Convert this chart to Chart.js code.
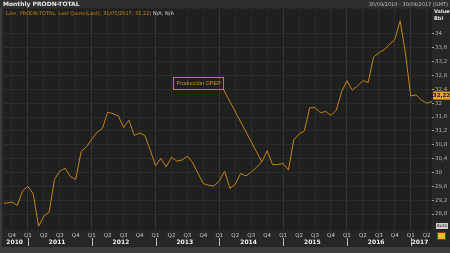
<!DOCTYPE html>
<html>
<head>
<meta charset="utf-8">
<script src="https://cdn.jsdelivr.net/npm/chart.js@4.4.1/dist/chart.umd.min.js"></script>
<style>
  html, body { margin: 0; padding: 0; background: #262626; }
  #chart { display: block; }
</style>
</head>
<body>
<canvas id="chart" width="450" height="253"></canvas>
<script>
// monthly OPEC production, million bbl/day (Aug 2010 .. May 2017)
var prod2010 = [29.10, 29.12, 29.15, 29.05, 29.47];
var prod2011 = [29.60, 29.38, 28.45, 28.74, 28.86, 29.80, 30.04, 30.12, 29.88, 29.80, 30.60, 30.74];
var prod2012 = [30.96, 31.16, 31.27, 31.74, 31.70, 31.63, 31.30, 31.51, 31.07, 31.14, 31.07, 30.65];
var prod2013 = [30.19, 30.41, 30.16, 30.44, 30.33, 30.36, 30.47, 30.28, 29.97, 29.68, 29.63, 29.61];
var prod2014 = [29.76, 30.04, 29.54, 29.66, 29.97, 29.90, 30.01, 30.15, 30.31, 30.63, 30.23, 30.23];
var prod2015 = [30.26, 30.07, 30.94, 31.11, 31.20, 31.87, 31.87, 31.73, 31.76, 31.65, 31.80, 32.33];
var prod2016 = [32.65, 32.38, 32.50, 32.65, 32.60, 33.33, 33.46, 33.54, 33.70, 33.83, 34.38, 33.45];
var prod2017 = [32.21, 32.24, 32.09, 32.00, 32.05];

var years = [2010, 2011, 2012, 2013, 2014, 2015, 2016, 2017];
var quarterNames = ['Q1', 'Q2', 'Q3', 'Q4'];
var yTicks = [28.8, 29.2, 29.6, 30, 30.4, 30.8, 31.2, 31.6, 32, 32.4, 32.8, 33.2, 33.6, 34];
var lastQuote = 32.22;
var startMonth = 7; // series starts in August 2010 (0 = January)

var titleText = 'Monthly PRODN-TOTAL';
var rangeText = '30/09/2010 - 30/04/2017 (GMT)';
var legendText = 'Line; PRODN-TOTAL; Last Quote(Last); 31/05/2017; 32,22)';
var legendTail = ' N/A; N/A';
var noteText = 'Producción OPEP';
var noteIndex = 49;          // Sep 2014, where the leader line points
var noteAnchor = { x: 32.3, y: 32.76 };  // top-left corner of the note box, in data units

var ORANGE = '#c08414';
var FONT = '"DejaVu Sans", sans-serif';
var NOTE_FONT = '"Liberation Sans", sans-serif';

var values = [].concat(prod2010, prod2011, prod2012, prod2013, prod2014, prod2015, prod2016, prod2017);
var points = values.map(function (v, i) { return { x: i, y: v }; });

// index of January of each year
function janIndex(year) { return (year - 2010) * 12 - startMonth; }

function fmt(v) {
  return String(Math.round(v * 100) / 100).replace('.', ',');
}

var decorations = {
  id: 'decorations',
  beforeDraw: function (chart) {
    var c = chart.ctx, a = chart.chartArea;
    c.save();
    c.fillStyle = '#262626';
    c.fillRect(0, 0, chart.width, chart.height);
    c.fillStyle = '#2e2e2e';
    c.fillRect(0, 0, chart.width, 8);
    c.fillStyle = '#3b3b3b';
    c.fillRect(0, 247, chart.width, chart.height - 247);
    c.fillRect(0, 8, 2, 239);
    c.fillStyle = '#1f1f1f';
    c.fillRect(a.left, a.top, a.right - a.left, a.bottom - a.top);
    c.restore();
  },
  afterDraw: function (chart) {
    var c = chart.ctx, a = chart.chartArea;
    var xs = chart.scales.x, ys = chart.scales.y;
    c.save();

    // header
    c.textBaseline = 'middle';
    c.font = 'bold 6px ' + FONT;
    c.fillStyle = '#e8e8e8';
    c.textAlign = 'left';
    c.fillText(titleText, 3, 4.5);
    c.font = '5px ' + FONT;
    c.fillStyle = '#bdbdbd';
    c.textAlign = 'right';
    c.fillText(rangeText, 448, 4.5);

    // legend line
    c.textAlign = 'left';
    c.font = '5px ' + FONT;
    c.fillStyle = ORANGE;
    c.fillText(legendText, 6, 13.5);
    var w = c.measureText(legendText).width;
    c.fillStyle = '#d8d8d8';
    c.fillText(legendTail, 6 + w, 13.5);

    // unit labels
    c.font = 'bold 5px ' + FONT;
    c.fillStyle = '#e0e0e0';
    c.fillText('Value', 434, 12);
    c.fillText('Bbl', 434, 19);

    // year labels and separators
    c.textAlign = 'center';
    c.font = 'bold 6px ' + FONT;
    years.forEach(function (yr) {
      var lo = Math.max(janIndex(yr) - 0.5, xs.min);
      var hi = Math.min(janIndex(yr + 1) - 0.5, xs.max);
      var mid = xs.getPixelForValue((lo + hi) / 2);
      c.fillStyle = '#f0f0f0';
      c.fillText(String(yr), mid, 242);
      var j = janIndex(yr);
      if (j >= xs.min && j <= xs.max) {
        var px = Math.round(xs.getPixelForValue(j)) + 0.5;
        c.strokeStyle = '#bdbdbd';
        c.lineWidth = 1;
        c.beginPath();
        c.moveTo(px, 238);
        c.lineTo(px, 246);
        c.stroke();
      }
    });

    // note with leader line
    c.font = '5.5px ' + NOTE_FONT;
    var tw = c.measureText(noteText).width;
    var bx = Math.round(xs.getPixelForValue(noteAnchor.x)) + 0.5;
    var by = Math.round(ys.getPixelForValue(noteAnchor.y)) + 0.5;
    var bw = Math.round(tw + 6), bh = 12;
    c.strokeStyle = ORANGE;
    c.lineWidth = 1;
    c.strokeRect(bx, by, bw, bh);
    c.fillStyle = '#d2921c';
    c.textAlign = 'left';
    c.fillText(noteText, bx + 3, by + bh / 2);
    c.beginPath();
    c.moveTo(bx + bw, by + bh);
    c.lineTo(xs.getPixelForValue(noteIndex), ys.getPixelForValue(values[noteIndex]));
    c.stroke();

    // last quote tag
    var qy = ys.getPixelForValue(lastQuote);
    c.fillStyle = '#f0a020';
    c.fillRect(a.right + 1, qy - 4, 17, 8);
    c.fillStyle = '#1a1a1a';
    c.font = 'bold 5.5px ' + FONT;
    c.textAlign = 'center';
    c.fillText(fmt(lastQuote), a.right + 9.5, qy);

    // auto button and icon
    c.fillStyle = '#cfcfcf';
    c.fillRect(436, 223, 12, 6);
    c.fillStyle = '#222';
    c.font = '4.5px ' + FONT;
    c.fillText('Auto', 442, 226);
    c.fillStyle = '#e8c020';
    c.fillRect(438, 233, 7, 6);
    c.strokeStyle = '#b02020';
    c.strokeRect(437.5, 232.5, 8, 7);

    c.restore();
  }
};

new Chart(document.getElementById('chart'), {
  type: 'line',
  data: {
    datasets: [{
      label: 'PRODN-TOTAL',
      data: points,
      borderColor: ORANGE,
      borderWidth: 1,
      pointRadius: 0,
      tension: 0,
      fill: false
    }]
  },
  options: {
    responsive: false,
    maintainAspectRatio: false,
    devicePixelRatio: 1,
    animation: false,
    layout: { padding: { left: 4, top: 9, right: 0, bottom: 0 } },
    plugins: { legend: { display: false }, tooltip: { enabled: false } },
    scales: {
      x: {
        type: 'linear',
        min: 0.5,
        max: values.length - 1,
        afterBuildTicks: function (scale) {
          var t = [];
          for (var i = 0; i < values.length; i++) {
            if ((startMonth + i) % 3 === 0) t.push({ value: i });
          }
          scale.ticks = t;
        },
        afterFit: function (scale) { scale.height = 23; },
        grid: {
          color: function (ctx) {
            if (!ctx.tick) return '#2b2b2b';
            return (startMonth + ctx.tick.value) % 12 === 0 ? '#363636' : '#2b2b2b';
          },
          drawTicks: false
        },
        border: { display: false },
        ticks: {
          autoSkip: false,
          maxRotation: 0,
          padding: 2,
          color: '#c8c8c8',
          font: { size: 5.5, family: FONT },
          callback: function (v) {
            return quarterNames[Math.floor(((startMonth + v) % 12) / 3)];
          }
        }
      },
      y: {
        position: 'right',
        min: 28.34,
        max: 34.72,
        afterBuildTicks: function (scale) {
          scale.ticks = yTicks.map(function (v) { return { value: v }; });
        },
        afterFit: function (scale) { scale.width = 18; },
        grid: { color: '#2b2b2b', tickColor: '#9a9a9a', tickLength: 2 },
        border: { display: false },
        ticks: {
          padding: 1,
          color: '#b0b0b0',
          font: { size: 5.5, family: FONT },
          callback: function (v) { return fmt(v); }
        }
      }
    }
  },
  plugins: [decorations]
});
</script>
</body>
</html>
